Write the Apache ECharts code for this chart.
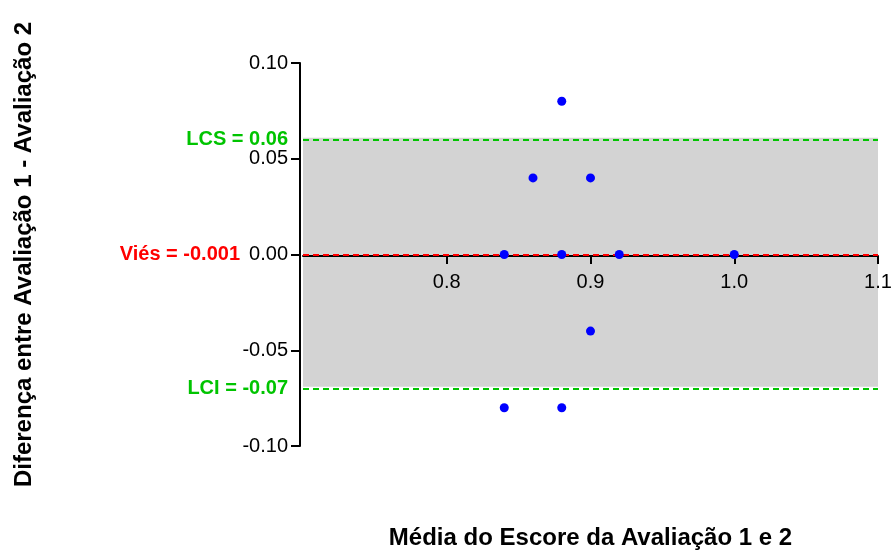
<!DOCTYPE html>
<html>
<head>
<meta charset="utf-8">
<script src="https://cdn.jsdelivr.net/npm/echarts@6/dist/echarts.min.js"></script>
<style>html,body{margin:0;padding:0;background:#fff}#c{width:891px;height:550px}</style>
</head>
<body>
<div id="c"></div>
<script>
var meanScores = [0.88, 0.86, 0.90, 0.84, 0.88, 0.92, 1.00, 0.90, 0.84, 0.88];
var differences = [0.08, 0.04, 0.04, 0.00, 0.00, 0.00, 0.00, -0.04, -0.08, -0.08];
var bias = -0.001;
var upperLimit = 0.061;
var lowerLimit = -0.069;
var biasLabel = 'Viés = -0.001';
var upperLabel = 'LCS = 0.06';
var lowerLabel = 'LCI = -0.07';
var xTitle = 'Média do Escore da Avaliação 1 e 2';
var yTitle = 'Diferença entre Avaliação 1 - Avaliação 2';

var points = meanScores.map(function (m, i) { return [m, differences[i]]; });
var font = 'Liberation Sans, Arial, sans-serif';
var green = '#00c400';

var chart = echarts.init(document.getElementById('c'));
chart.setOption({
  animation: false,
  grid: { left: 303, right: 13, top: 63, bottom: 104, containLabel: false, outerBoundsMode: 'none' },
  xAxis: {
    type: 'value', min: 0.7, max: 1.1, interval: 0.1,
    z: 3,
    offset: -190,
    name: xTitle, nameLocation: 'middle', nameGap: 270,
    nameTextStyle: { fontFamily: font, fontSize: 24, fontWeight: 'bold', color: '#000' },
    axisLine: { onZero: false, lineStyle: { color: '#000', width: 2 } },
    axisTick: { length: 8, lineStyle: { color: '#000', width: 2 } },
    axisLabel: { showMinLabel: false, fontFamily: font, fontSize: 20, color: '#000', margin: 16,
      formatter: function (v) { return v.toFixed(1); } },
    splitLine: { show: false }
  },
  yAxis: {
    type: 'value', min: -0.1, max: 0.1, interval: 0.05,
    z: 3,
    offset: 3,
    name: yTitle, nameLocation: 'middle', nameGap: 264, nameRotate: 90,
    nameTextStyle: { fontFamily: font, fontSize: 24, fontWeight: 'bold', color: '#000' },
    axisLine: { show: true, onZero: false, lineStyle: { color: '#000', width: 2 } },
    axisTick: { show: true, length: 9, lineStyle: { color: '#000', width: 2 } },
    axisLabel: { fontFamily: font, fontSize: 20, color: '#000', margin: 12,
      formatter: function (v) { return v.toFixed(2); } },
    splitLine: { show: false }
  },
  series: [{
    type: 'scatter',
    data: [],
    z: 1,
    markArea: {
      silent: true,
      itemStyle: { color: '#d3d3d3' },
      data: [[{ yAxis: lowerLimit }, { yAxis: upperLimit }]]
    },
    markLine: {
      silent: true,
      symbol: 'none',
      data: [
        { yAxis: upperLimit, lineStyle: { color: green, type: [6, 4], width: 2 },
          label: { formatter: upperLabel, color: green, distance: 15 } },
        { yAxis: lowerLimit, lineStyle: { color: green, type: [6, 4], width: 2 },
          label: { formatter: lowerLabel, color: green, distance: 15 } },
        { yAxis: bias, lineStyle: { color: '#ff0000', type: [6, 4], width: 2 },
          label: { formatter: biasLabel, color: '#ff0000', distance: 63 } }
      ],
      label: { position: 'start', fontFamily: font, fontSize: 20, fontWeight: 'bold' }
    }
  }, {
    type: 'scatter',
    data: points,
    symbolSize: 9,
    itemStyle: { color: '#0000ff', opacity: 1 },
    z: 5
  }]
});
</script>
</body>
</html>
